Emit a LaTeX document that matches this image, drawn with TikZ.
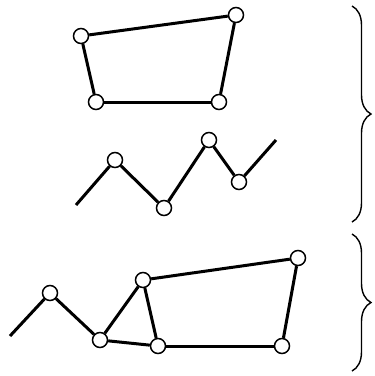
\documentclass[tikz,border=0pt]{standalone}
\usetikzlibrary{decorations.pathreplacing}

\begin{document}
\begin{tikzpicture}[x=1pt, y=-1pt,
  joint/.style={circle, draw, line width=1.5pt, fill=white, inner sep=0pt, minimum size=15pt},
  bar/.style={line width=3pt},
  grp/.style={decorate, decoration={brace, amplitude=19pt}, line width=1.4pt}]
  \useasboundingbox (0,0) rectangle (375,376);
  % quadrilateral
  \node[joint] (a1) at (81,36) {};
  \node[joint] (a2) at (236,15) {};
  \node[joint] (a3) at (219,102) {};
  \node[joint] (a4) at (96,102) {};
  % open chain
  \coordinate (b0) at (76,205);
  \node[joint] (b1) at (115,160) {};
  \node[joint] (b2) at (164,208) {};
  \node[joint] (b3) at (209,140) {};
  \node[joint] (b4) at (239,182) {};
  \coordinate (b5) at (276,140);
  % combined
  \coordinate (c0) at (10,336);
  \node[joint] (c1) at (50,293) {};
  \node[joint] (c2) at (100,340) {};
  \node[joint] (c3) at (143,280) {};
  \node[joint] (c4) at (158,346) {};
  \node[joint] (c5) at (282,346) {};
  \node[joint] (c6) at (298,258) {};
  \foreach \u/\v in {a1/a2, a2/a3, a3/a4, a4/a1,
                     b0/b1, b1/b2, b2/b3, b3/b4, b4/b5,
                     c0/c1, c1/c2, c2/c3, c2/c4, c3/c4, c3/c6, c6/c5, c5/c4} {
    \draw[bar] (\u) -- (\v);
  }
  \draw[grp] (352,6) -- (352,222);
  \draw[grp] (352,234) -- (352,371);
\end{tikzpicture}
\end{document}
